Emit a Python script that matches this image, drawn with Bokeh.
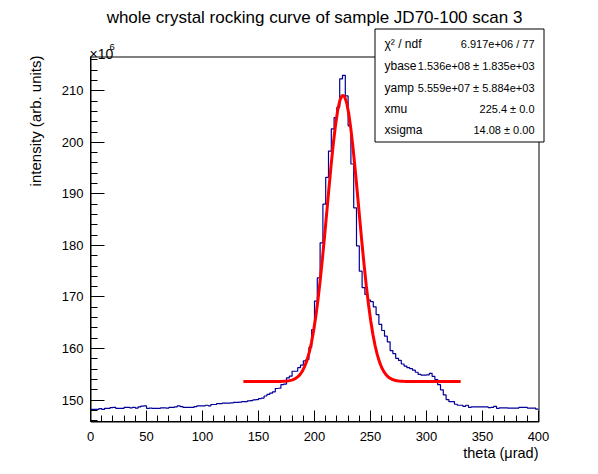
import numpy as np
from bokeh.plotting import figure
from bokeh.models import Label, BoxAnnotation, SingleIntervalTicker, Range1d
from bokeh.embed import file_html
from bokeh.resources import INLINE

# ---------------- data (intensity in units of 1e6) ----------------
bin_lo = 0.0
bin_width = 2.5
counts = [
    148.2, 148.2, 148.2, 148.35, 148.2, 148.4, 148.4, 148.55, 148.6, 148.4,
    148.4, 148.4, 148.6, 148.6, 148.5, 148.6, 148.45, 148.7, 148.85, 148.9,
    148.4, 148.45, 148.4, 148.4, 148.4, 148.5, 148.5, 148.45, 148.6, 148.6,
    148.7, 148.9, 148.75, 148.6, 148.6, 148.6, 148.6, 148.75, 148.9, 148.9,
    148.9, 149.0, 148.9, 149.15, 149.15, 149.3, 149.3, 149.4, 149.4, 149.4,
    149.45, 149.55, 149.55, 149.6, 149.7, 149.7, 149.85, 149.9, 150.05, 150.1,
    150.3, 150.4, 150.8, 151.1, 151.35, 151.6, 152.25, 152.3, 153.0, 153.1,
    154.3, 154.65, 155.6, 155.6, 156.3, 156.8, 157.6, 157.9, 160.2, 163.7,
    169.2, 173.7, 180.5, 188.0, 193.2, 198.3, 202.6, 204.8, 206.8, 212.3,
    213.0, 209.0, 203.2, 195.8, 187.3, 179.9, 175.0, 171.8, 170.5, 169.4,
    169.1, 168.1, 166.6, 164.7, 163.5, 162.4, 161.3, 159.6, 159.0, 158.1,
    157.7, 157.0, 156.6, 156.3, 156.1, 155.8, 155.4, 155.0, 154.85, 154.85,
    154.9, 155.2, 154.6, 154.0, 153.0, 152.0, 151.0, 150.1, 149.7, 149.7,
    149.2, 149.0, 149.0, 148.8, 149.0, 148.6, 148.7, 148.7, 148.7, 148.7,
    148.7, 148.7, 148.55, 148.6, 148.8, 148.4, 148.5, 148.5, 148.5, 148.45,
    148.45, 148.45, 148.45, 148.6, 148.6, 148.6, 148.45, 148.45, 148.45, 148.25,
]

# fit parameters (Gaussian on a constant base), intensity in 1e6
ybase = 153.6
yamp = 55.59
xmu = 225.4
xsigma = 14.08
fit_lo = 136.5
fit_hi = 330.5

x_axis_min, x_axis_max = 0.0, 400.0
y_axis_min, y_axis_max = 145.85, 216.65

stat_names = ["\u03c7\u00b2 / ndf", "ybase", "yamp", "xmu", "xsigma"]
stat_values = ["6.917e+06 / 77", "1.536e+08 \u00b1 1.835e+03",
               "5.559e+07 \u00b1 5.884e+03", "225.4 \u00b1 0.0", "14.08 \u00b1 0.00"]

title_text = "whole crystal rocking curve of sample JD70-100 scan 3"
x_title = "theta (\u03bcrad)"
y_title = "intensity (arb. units)"

# ---------------- layout (pixels) ----------------
W, H = 590, 466
FL, FR, FT, FB = 90, 538, 56, 421      # pad frame edges in canvas pixels
FONT = "Liberation Sans"

sx_per = (FR - FL) / (x_axis_max - x_axis_min)
sy_per = (FB - FT) / (y_axis_max - y_axis_min)
xr = Range1d(x_axis_min - FL / sx_per, x_axis_max + (W - FR) / sx_per)
yr = Range1d(y_axis_min - (H - FB) / sy_per, y_axis_max + FT / sy_per)

def sy(py):
    return H - py

p = figure(frame_width=W, frame_height=H,
           min_border_left=0, min_border_right=0,
           min_border_top=0, min_border_bottom=0,
           x_range=xr, y_range=yr,
           output_backend="svg", toolbar_location=None, title=None)
p.grid.visible = False
p.outline_line_color = None
p.background_fill_color = "white"
p.border_fill_color = "white"

p.xaxis.ticker = SingleIntervalTicker(interval=50, num_minor_ticks=5)
p.yaxis.ticker = SingleIntervalTicker(interval=10, num_minor_ticks=5)
p.xaxis.fixed_location = y_axis_min
p.yaxis.fixed_location = x_axis_min
p.xaxis.bounds = (x_axis_min, x_axis_max)
p.yaxis.bounds = (y_axis_min, y_axis_max)
for ax in (p.xaxis, p.yaxis):
    ax.axis_line_color = "black"
    ax.major_tick_line_color = "black"
    ax.minor_tick_line_color = "black"
    ax.major_tick_out = 0
    ax.minor_tick_out = 0
    ax.major_label_text_font = FONT
    ax.major_label_text_font_size = "13px"
    ax.major_label_text_color = "black"
p.xaxis.major_label_standoff = 10
p.yaxis.major_label_standoff = 7
p.xaxis.major_tick_in = 11
p.xaxis.minor_tick_in = 6
p.yaxis.major_tick_in = 14
p.yaxis.minor_tick_in = 7

# pad frame (top/right borders), half-pixel aligned
p.add_layout(BoxAnnotation(left=FL + 0.5, right=FR + 0.5,
                           top=sy(FT) - 0.5, bottom=sy(FB) - 0.5,
                           left_units="screen", right_units="screen",
                           top_units="screen", bottom_units="screen",
                           fill_alpha=0, line_color="black", line_alpha=1.0,
                           line_width=1, level="underlay"))

# histogram (step outline)
edges = bin_lo + bin_width * np.arange(len(counts) + 1)
p.step(x=edges, y=counts + [counts[-1]], mode="after",
       line_color="#000099", line_width=1.2)

# fit curve
xs = np.linspace(fit_lo, fit_hi, 100)
ys = ybase + yamp * np.exp(-0.5 * ((xs - xmu) / xsigma) ** 2)
p.line(xs, ys, line_color="#ff0000", line_width=3)

# ---------------- texts ----------------
def lab(x, y, text, size, align="left", baseline="middle", angle=0.0, level="annotation"):
    p.add_layout(Label(x=x, y=y, x_units="screen", y_units="screen",
                       text=text, text_font=FONT, text_font_size=size,
                       text_align=align, text_baseline=baseline, angle=angle,
                       text_color="black", level=level))

lab((FL + FR) / 2, sy(17), title_text, "17px", align="center")
lab(FR, sy(452), x_title, "14.5px", align="right")
lab(35, sy(FT - 1), y_title, "15px", align="right", angle=np.pi / 2)
lab(FL - 1, sy(53), "\u00d710", "14px", baseline="alphabetic")
lab(FL + 19, sy(46), "6", "9.5px", baseline="alphabetic")

# stats box
p.add_layout(BoxAnnotation(left=374.5, right=543.5, top=sy(28) - 0.5, bottom=sy(141) - 0.5,
                           left_units="screen", right_units="screen",
                           top_units="screen", bottom_units="screen",
                           fill_color="white", fill_alpha=1.0,
                           line_color="black", line_alpha=1.0,
                           line_width=1, level="overlay"))
row_py = [43, 65, 87, 108, 129]
for name, val, py in zip(stat_names, stat_values, row_py):
    lab(384, sy(py), name, "12px", level="overlay")
    lab(534, sy(py), val, "11px", align="right", level="overlay")

open("out.html", "w").write(file_html(p, INLINE))
